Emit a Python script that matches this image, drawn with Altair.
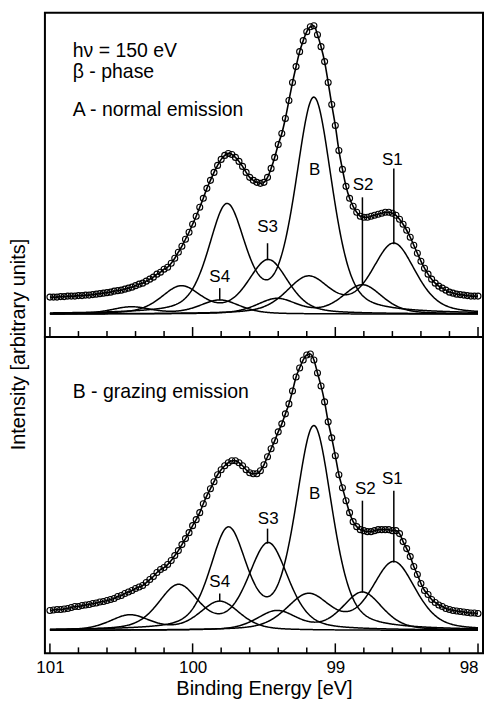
import altair as alt
import numpy as np
import pandas as pd

FONT = "Liberation Sans"

E_START = 101.0
E_STEP = 0.025

top_counts = [
    17, 17, 17, 17.5, 17.5, 18, 18, 18, 18.5, 18.5,
    19, 19, 19.5, 20, 20.5, 21, 21.5, 22, 23, 23.5,
    24, 25, 26, 27, 28.5, 30, 31, 33, 35, 37,
    40, 42, 45, 47, 51, 56, 62, 68, 75, 82,
    90, 98, 107, 116, 126, 134, 142, 149, 155, 159,
    161, 160, 157, 153, 148, 142, 137, 134, 132, 131,
    132, 137, 146, 157, 170, 181, 196, 214, 232, 248,
    263, 274, 283, 288, 289, 280, 268, 253, 232, 210,
    189, 164, 145, 128, 116, 108, 102, 98, 97, 97,
    98, 99, 100, 101, 102, 102, 101, 99, 95, 90,
    84, 77, 69, 61, 53, 46, 40, 35, 31, 28,
    26, 24, 22, 21, 20, 19.5, 19, 18.5, 18, 18,
    18,
]

bottom_counts = [
    20, 20.5, 21, 21, 21.5, 22, 23, 24, 24, 25,
    25.5, 26, 27, 27.5, 28.5, 29, 30, 31, 32, 34,
    35, 37, 38.5, 40, 42, 43.5, 45, 48, 51, 54,
    58, 61, 63, 66, 70, 75, 80, 86, 92, 98,
    105, 111, 118, 127, 135, 142, 149, 156, 161, 165,
    168, 170, 170, 168, 165, 161, 158, 157, 157, 160,
    166, 174, 182, 190, 199, 207, 217, 227, 240, 254,
    263, 271, 276, 277, 271, 258, 245, 229, 209, 193,
    175, 156, 143, 130, 118, 109, 104, 101, 100, 99,
    99, 100, 101, 101, 101, 101, 100, 100, 97, 89,
    82, 74, 64, 56, 47, 40, 36, 31, 28, 25.5,
    24, 22, 21, 20, 19.5, 19, 18.5, 18, 17.5, 17.5,
    17,
]

# ---- fitted doublet components (2p3/2 + 2p1/2)
components = ["S1", "S2", "B", "S3", "S4"]
e_p32 = [98.59, 98.81, 99.15, 99.47, 99.81]
fwhm = [0.36, 0.33, 0.30, 0.33, 0.33]
lorentz_frac = 0.4

top_h32 = [70, 29, 215, 54, 14]
top_e12 = [99.19, 99.41, 99.76, 100.08, 100.43]
top_h12 = [36, 15, 106, 27, 7]

bot_h32 = [68, 38, 203, 87, 29]
bot_e12 = [99.19, 99.41, 99.75, 100.10, 100.44]
bot_h12 = [35, 19, 99, 44, 15]

# ---- labels
label_text = ["S1", "S2", "B", "S3", "S4"]
top_label_e = [98.60, 98.805, 99.145, 99.475, 99.81]
top_label_h = [154, 129, 144, 87, 37]
bot_label_e = [98.60, 98.79, 99.145, 99.47, 99.81]
bot_label_h = [152, 142, 137, 112, 49]

marker_names = ["S1", "S2", "S3", "S4"]
marker_e = [98.59, 98.81, 99.475, 99.81]
top_marker_from = [146, 117, 71, 26]
top_marker_to = [70, 29, 54, 14]
bot_marker_from = [140, 130, 102, 37]
bot_marker_to = [68, 38, 87, 29]

top_notes = ["h\u03bd = 150 eV", "\u03b2 - phase", "A - normal emission"]
top_notes_h = [264, 243, 205]
bot_notes = ["B - grazing emission"]
bot_notes_h = [239]
notes_e = 100.84

tick_e = [101.0, 100.8, 100.6, 100.4, 100.2, 100.0, 99.8, 99.6, 99.4, 99.2,
          99.0, 98.8, 98.6, 98.4, 98.2, 98.0]
major_e = [101.0, 100.0, 99.0, 98.0]
minor_e = [t for t in tick_e if t not in major_e]

X_DOMAIN = [101.035, 97.965]
PANEL_W = 439


def pseudo_voigt(e, c, w, eta):
    d = (e - c) / w
    return (1 - eta) * np.exp(-4 * np.log(2) * d ** 2) + eta / (1 + 4 * d ** 2)


def comp_frame(h32, e12, h12):
    grid = np.round(np.arange(98.0, 101.0001, 0.005), 4)
    rows = []
    for name, c1, a1, c2, a2, w in zip(components, e_p32, h32, e12, h12, fwhm):
        y = a1 * pseudo_voigt(grid, c1, w, lorentz_frac) + a2 * pseudo_voigt(grid, c2, w, lorentz_frac)
        rows.append(pd.DataFrame({"E": grid, "h": y, "name": name}))
    return pd.concat(rows, ignore_index=True)


def panel(counts, h32, e12, h12, lab_e, lab_h, mk_from, mk_to, notes, notes_h,
          height, ydom, bottom):
    if bottom:
        x_axis = alt.Axis(values=major_e, format="d", ticks=False, domain=False, grid=False,
                          labelFontSize=17, labelPadding=6, labelFlush=False, labelOverlap=False,
                          labelAlign={"condition": {"test": "datum.value == 98", "value": "right"},
                                      "value": "center"},
                          labelFont=FONT, labelColor="black",
                          title="Binding Energy [eV]", titleFont=FONT, titleFontSize=20,
                          titleFontWeight="normal", titleColor="black", titlePadding=3)
        y_axis = None
    else:
        x_axis = None
        y_axis = alt.Axis(title="Intensity [arbitrary units]", labels=False, ticks=False,
                          domain=False, grid=False, titleFont=FONT, titleFontSize=20,
                          titleFontWeight="normal", titleColor="black", titlePadding=16,
                          titleY=332)
    xs = alt.Scale(domain=X_DOMAIN, nice=False, zero=False)
    ys = alt.Scale(domain=ydom, nice=False, zero=False)
    X = alt.X("E:Q", scale=xs, axis=x_axis)
    Y = alt.Y("h:Q", scale=ys, axis=y_axis)

    spec = pd.DataFrame({"E": [round(E_START - E_STEP * i, 3) for i in range(len(counts))],
                         "h": counts})
    comps = comp_frame(h32, e12, h12)
    labels = pd.DataFrame({"E": lab_e, "h": lab_h, "t": label_text})
    markers = pd.DataFrame({"E": marker_e, "h": mk_from, "h2": mk_to})
    notes_df = pd.DataFrame({"E": [notes_e] * len(notes), "h": notes_h, "t": notes})
    major_df = pd.DataFrame({"E": major_e})
    minor_df = pd.DataFrame({"E": minor_e})

    comp_layer = alt.Chart(comps).mark_line(color="black", strokeWidth=1.5).encode(
        x=X, y=Y, detail="name:N")
    env_layer = alt.Chart(spec).mark_line(color="black", strokeWidth=1.6,
                                          interpolate="monotone").encode(x=X, y=Y)
    pts_layer = alt.Chart(spec).mark_point(shape="circle", filled=False, color="black",
                                           size=36, strokeWidth=1.1, opacity=1).encode(x=X, y=Y)
    mk_layer = alt.Chart(markers).mark_rule(color="black", strokeWidth=1.5).encode(
        x=X, y=Y, y2="h2:Q")
    lab_layer = alt.Chart(labels).mark_text(font=FONT, fontSize=17, color="black",
                                            baseline="middle", align="center").encode(
        x=X, y=Y, text="t:N")
    note_layer = alt.Chart(notes_df).mark_text(font=FONT, fontSize=19.5, color="black",
                                               baseline="middle", align="left").encode(
        x=X, y=Y, text="t:N")
    major_layer = alt.Chart(major_df).mark_rule(color="black", strokeWidth=1.5).encode(
        x=X, y=alt.value(height), y2=alt.value(height - 10))
    minor_layer = alt.Chart(minor_df).mark_rule(color="black", strokeWidth=1.5).encode(
        x=X, y=alt.value(height), y2=alt.value(height - 6))

    return alt.layer(comp_layer, env_layer, pts_layer, mk_layer, lab_layer, note_layer,
                     major_layer, minor_layer).properties(width=PANEL_W, height=height)


top = panel(top_counts, top_h32, top_e12, top_h12, top_label_e, top_label_h,
            top_marker_from, top_marker_to, top_notes, top_notes_h,
            325, [-23, 302], False)
bottom = panel(bottom_counts, bot_h32, bot_e12, bot_h12, bot_label_e, bot_label_h,
               bot_marker_from, bot_marker_to, bot_notes, bot_notes_h,
               317, [-23, 294], True)

chart = alt.vconcat(top, bottom, spacing=0, bounds="flush").resolve_scale(
    y="independent"
).properties(
    padding={"left": 0, "top": 3, "right": 0, "bottom": 0}
).configure(
    font=FONT, background="white",
    view=alt.ViewConfig(stroke="black", strokeWidth=2),
)

chart.save("out.html", embed_options={"renderer": "svg", "actions": False})
